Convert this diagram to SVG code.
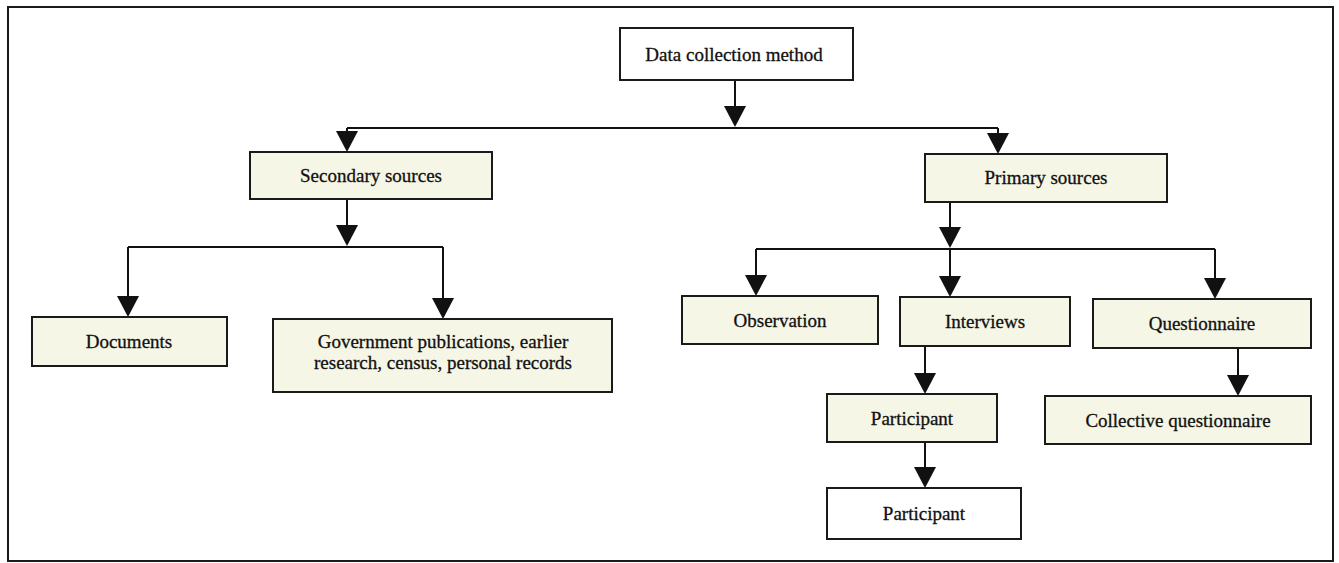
<svg xmlns="http://www.w3.org/2000/svg" width="1339" height="563" viewBox="0 0 1339 563">
<style>
.box{stroke:#1a1a1a;stroke-width:2;fill:#f6f6e6}
.white{fill:#ffffff}
.lbl{font-family:"Liberation Serif","Times New Roman",serif;font-size:19px;fill:#111;stroke:#111;stroke-width:0.3;text-anchor:middle}
.edge{stroke:#111;stroke-width:2;fill:none}
.head{fill:#111}
</style>
<rect x="0" y="0" width="1339" height="563" fill="#ffffff"/>
<rect x="8" y="7" width="1325" height="554" fill="none" stroke="#1a1a1a" stroke-width="2"/>

<g id="connectors">
<path class="edge" d="M735,80 V106"/>
<path class="head" d="M724,106 L746,106 L735,127 Z"/>
<path class="edge" d="M347,128 H998"/>
<path class="edge" d="M347,128 V131"/>
<path class="head" d="M336,131 L358,131 L347,152 Z"/>
<path class="edge" d="M998,128 V133"/>
<path class="head" d="M987,133 L1009,133 L998,154 Z"/>

<path class="edge" d="M347,199 V225"/>
<path class="head" d="M336,225 L358,225 L347,246 Z"/>
<path class="edge" d="M128,247 H443"/>
<path class="edge" d="M128,247 V296"/>
<path class="head" d="M117,296 L139,296 L128,317 Z"/>
<path class="edge" d="M443,247 V298"/>
<path class="head" d="M432,298 L454,298 L443,319 Z"/>

<path class="edge" d="M950,202 V227"/>
<path class="head" d="M939,227 L961,227 L950,248 Z"/>
<path class="edge" d="M756,249 H1215"/>
<path class="edge" d="M756,249 V275"/>
<path class="head" d="M745,275 L767,275 L756,296 Z"/>
<path class="edge" d="M950,249 V276"/>
<path class="head" d="M939,276 L961,276 L950,297 Z"/>
<path class="edge" d="M1215,249 V278"/>
<path class="head" d="M1204,278 L1226,278 L1215,299 Z"/>

<path class="edge" d="M925,346 V373"/>
<path class="head" d="M914,373 L936,373 L925,394 Z"/>
<path class="edge" d="M925,442 V467"/>
<path class="head" d="M914,467 L936,467 L925,488 Z"/>
<path class="edge" d="M1238,348 V375"/>
<path class="head" d="M1227,375 L1249,375 L1238,396 Z"/>
</g>

<g id="n-data">
<rect class="box white" x="620" y="28" width="233" height="52"/>
<text class="lbl" x="734" y="61">Data collection method</text>
</g>
<g id="n-secondary">
<rect class="box" x="250" y="152" width="242" height="47"/>
<text class="lbl" x="371" y="182">Secondary sources</text>
</g>
<g id="n-primary">
<rect class="box" x="925" y="154" width="242" height="48"/>
<text class="lbl" x="1046" y="184">Primary sources</text>
</g>
<g id="n-documents">
<rect class="box" x="32" y="317" width="195" height="49"/>
<text class="lbl" x="129" y="348">Documents</text>
</g>
<g id="n-government">
<rect class="box" x="273" y="319" width="339" height="73"/>
<text class="lbl" x="443" y="348">Government publications, earlier</text>
<text class="lbl" x="443" y="369">research, census, personal records</text>
</g>
<g id="n-observation">
<rect class="box" x="682" y="296" width="196" height="48"/>
<text class="lbl" x="780" y="327">Observation</text>
</g>
<g id="n-interviews">
<rect class="box" x="900" y="297" width="170" height="49"/>
<text class="lbl" x="985" y="328">Interviews</text>
</g>
<g id="n-questionnaire">
<rect class="box" x="1093" y="299" width="218" height="49"/>
<text class="lbl" x="1202" y="330">Questionnaire</text>
</g>
<g id="n-participant1">
<rect class="box" x="827" y="394" width="170" height="48"/>
<text class="lbl" x="912" y="425">Participant</text>
</g>
<g id="n-collective">
<rect class="box" x="1045" y="396" width="266" height="48"/>
<text class="lbl" x="1178" y="427">Collective questionnaire</text>
</g>
<g id="n-participant2">
<rect class="box white" x="827" y="488" width="194" height="51"/>
<text class="lbl" x="924" y="520">Participant</text>
</g>
</svg>
